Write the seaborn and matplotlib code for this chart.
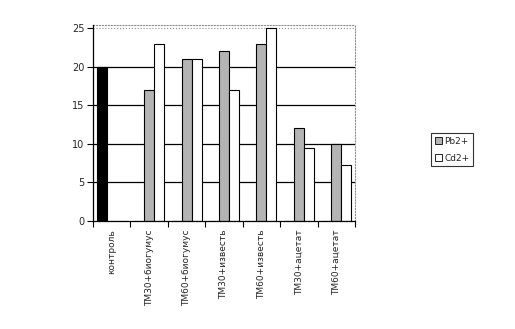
import matplotlib
matplotlib.use("Agg")
import matplotlib.pyplot as plt
import seaborn as sns
import pandas as pd
import numpy as np
from matplotlib.patches import Patch

categories = ["контроль", "ТМ30+биогумус", "ТМ60+биогумус", "ТМ30+известь",
              "ТМ60+известь", "ТМ30+ацетат", "ТМ60+ацетат"]
control = [20, 0, 0, 0, 0, 0, 0]
pb = [0, 17, 21, 22, 23, 12, 10]
cd = [0, 23, 21, 17, 25, 9.5, 7.2]
series_names = ["контроль", "Pb2+", "Cd2+"]
yticks = [0, 5, 10, 15, 20, 25]

rows = []
for name, vals in zip(series_names, [control, pb, cd]):
    for c, v in zip(categories, vals):
        rows.append({"cat": c, "series": name, "value": v})
df = pd.DataFrame(rows)

sns.set_theme(style="white")
plt.rcParams['font.family'] = ['DejaVu Sans']

fig = plt.figure(figsize=(5.15, 3.29), dpi=100)
ax = fig.add_axes([93/515, 1-221/329, 262/515, 196/329])
ax.set_axisbelow(True)

palette = {"контроль": "#000000", "Pb2+": "#b4b4b4", "Cd2+": "#ffffff"}
sns.barplot(data=df, x="cat", y="value", hue="series", hue_order=series_names,
            palette=palette, order=categories, width=0.8, ax=ax,
            edgecolor="black", linewidth=0.8, legend=False, saturation=1, zorder=3)
for p in ax.patches:
    p.set_zorder(3)

ax.set_xlim(-0.5, 6.5)
ax.set_ylim(0, 25.4)
ax.set_yticks(yticks)
ax.set_yticklabels([str(t) for t in yticks], fontsize=7)
for t in yticks[1:-1]:
    ax.axhline(t, color="black", lw=0.9, zorder=1)
ax.axhline(25, color="#909090", lw=0.8, ls=":", zorder=1)

ax.set_xticks(range(len(categories)))
ax.set_xticklabels(categories, rotation=90, fontsize=6.5)
ax.tick_params(axis="x", length=0, pad=6)
ax.set_xticks(np.arange(-0.5, 7.0, 1.0), minor=True)
ax.tick_params(axis="x", which="minor", length=4, width=0.8, color="black", direction="out", bottom=True)
ax.tick_params(axis="y", length=4, width=0.8, color="black", direction="out", left=True, pad=2)
ax.set_xlabel("")
ax.set_ylabel("")

for s in ["top", "right"]:
    ax.spines[s].set_color("#909090")
    ax.spines[s].set_linestyle(":")
    ax.spines[s].set_linewidth(0.8)
for s in ["left", "bottom"]:
    ax.spines[s].set_color("black")
    ax.spines[s].set_linewidth(0.9)
    ax.spines[s].set_zorder(4)

handles = [Patch(facecolor="#b4b4b4", edgecolor="black", lw=0.6, label="Pb2+"),
           Patch(facecolor="#ffffff", edgecolor="black", lw=0.6, label="Cd2+")]
leg = fig.legend(handles=handles, loc="upper left", bbox_to_anchor=(431/515, 1-133/329),
                 fontsize=6.5, frameon=True, fancybox=False, handlelength=0.8,
                 handleheight=0.8, handletextpad=0.3, borderpad=0.4, labelspacing=0.9,
                 borderaxespad=0)
leg.get_frame().set_edgecolor("black")
leg.get_frame().set_linewidth(0.8)

fig.savefig("out.png", dpi=100, facecolor="white")
